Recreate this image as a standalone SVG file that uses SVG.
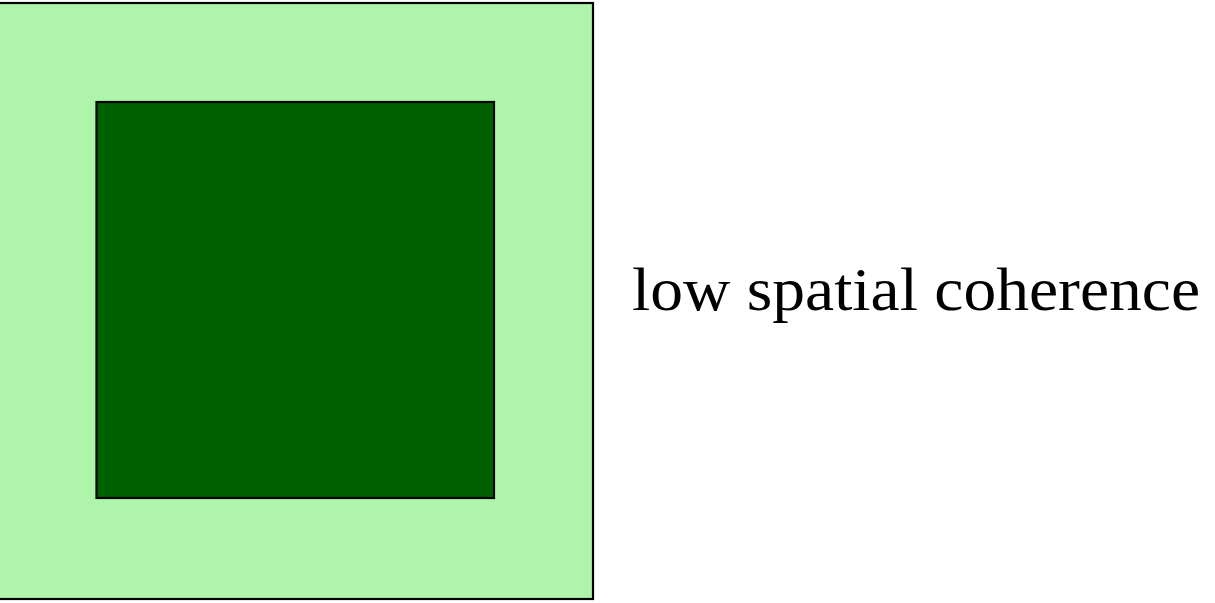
<svg xmlns="http://www.w3.org/2000/svg" width="1215" height="603" viewBox="0 0 1215 603">
<style>
.box{stroke:#000;stroke-width:2.2}
.lbl{font-family:"Liberation Serif","DejaVu Serif",serif;font-size:62px;fill:#000}
</style>
<rect width="1215" height="603" fill="#fff"/>
<g id="outer"><rect class="box" x="-10" y="3" width="603" height="596" fill="#aff4ab"/></g>
<g id="inner"><rect class="box" x="96.5" y="102" width="397.5" height="396" fill="#006100"/></g>
<g id="label"><text class="lbl" x="632" y="310" textLength="568" lengthAdjust="spacingAndGlyphs">low spatial coherence</text></g>
<g id="connectors"/>
</svg>
